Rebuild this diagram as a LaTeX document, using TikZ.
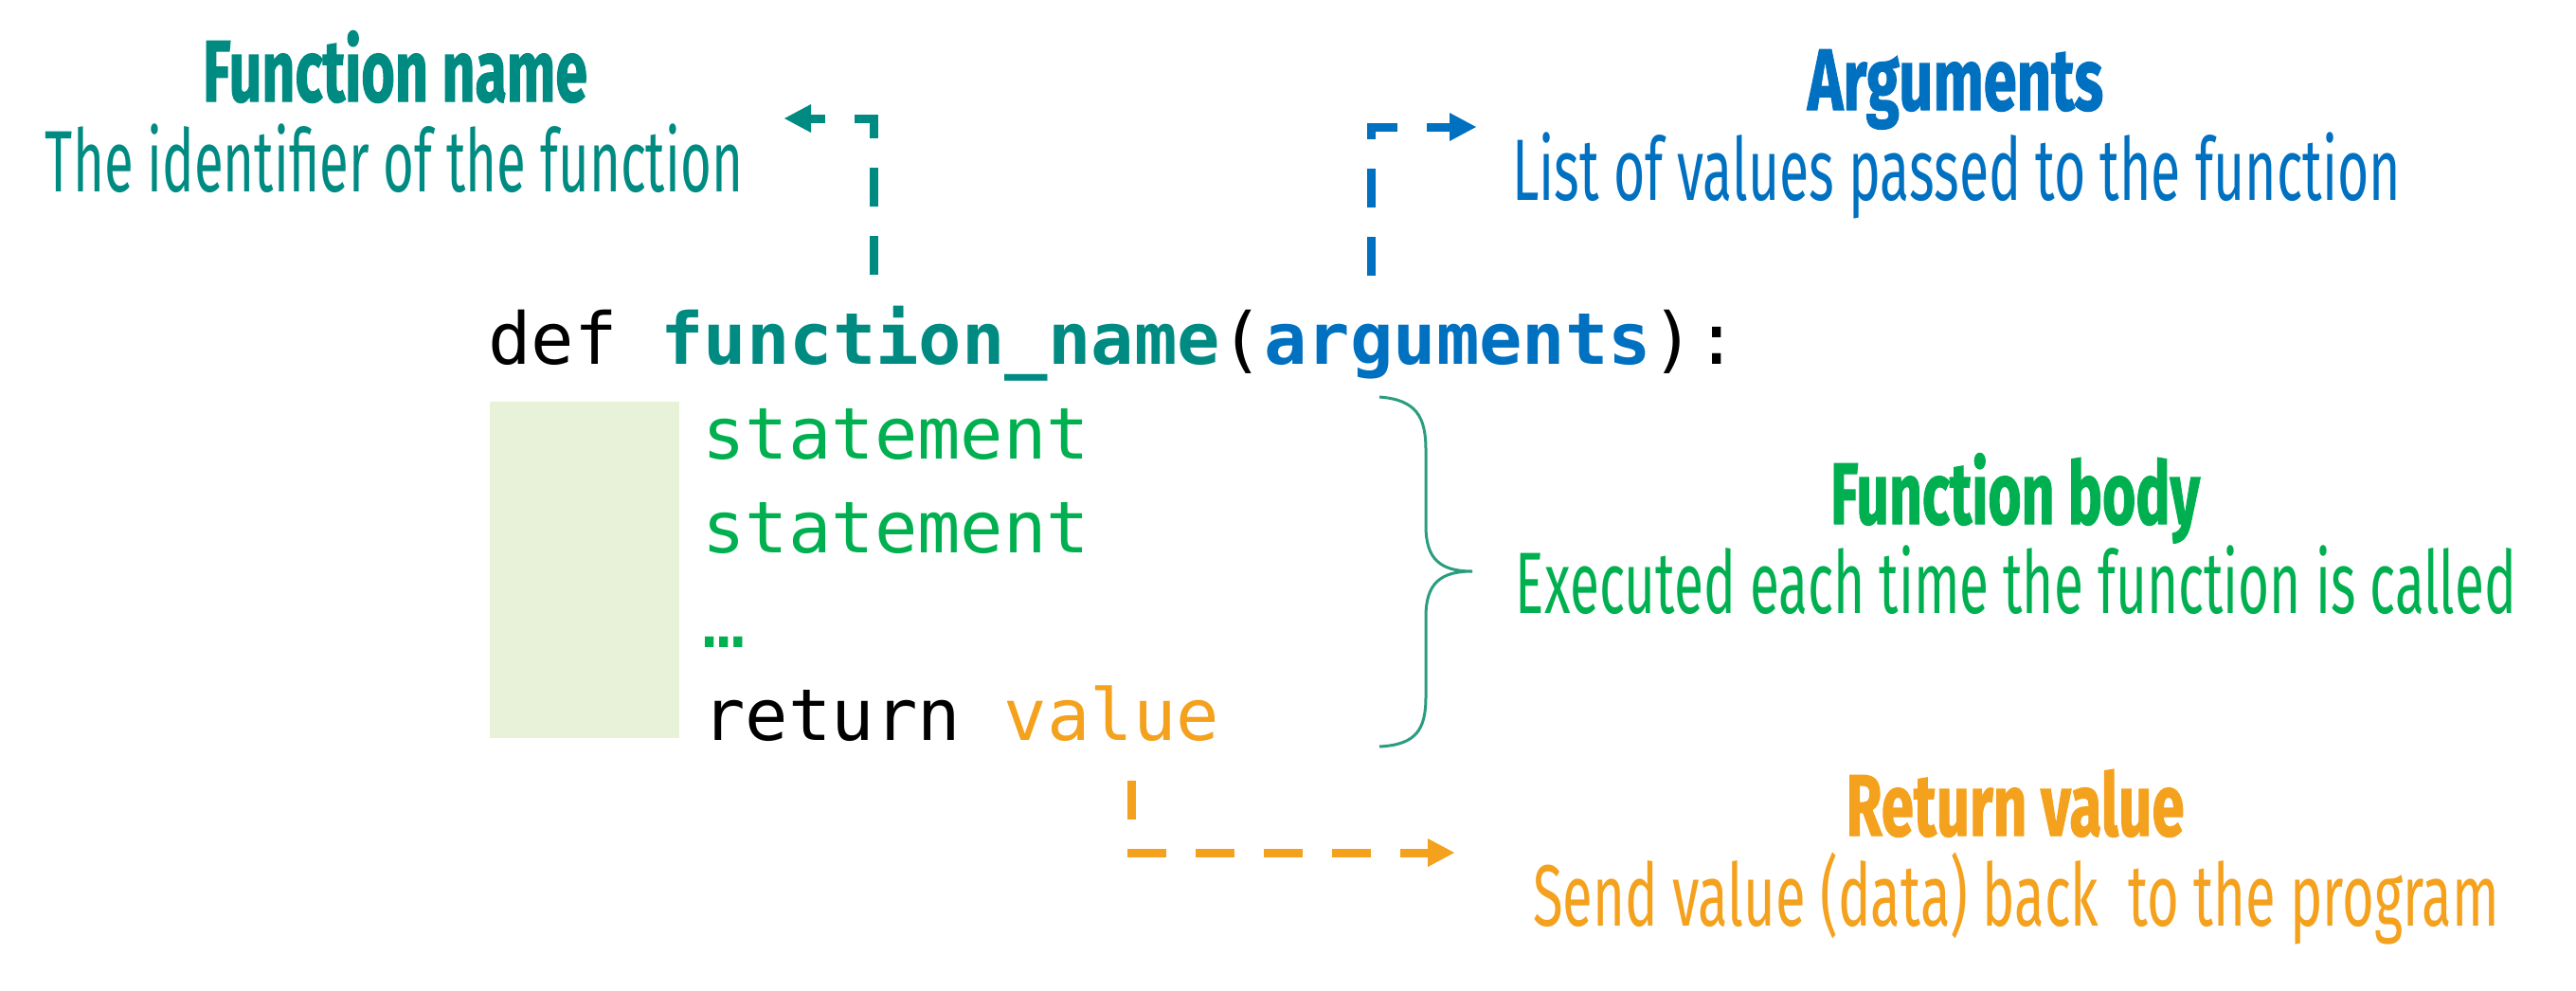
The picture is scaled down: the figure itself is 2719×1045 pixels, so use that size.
\documentclass[tikz,border=0pt]{standalone}
\usepackage{fontspec}
\usepackage{graphicx}
\usetikzlibrary{arrows.meta}
\newfontfamily\codefont{DejaVu Sans Mono}
\newfontfamily\labfont{Fira Sans}[BoldFeatures={FakeBold=1.5}]
\definecolor{tealc}{HTML}{008B82}
\definecolor{bluec}{HTML}{0070C0}
\definecolor{greenc}{HTML}{00B050}
\definecolor{orangec}{HTML}{F4A11E}
\definecolor{bracec}{HTML}{2A9D7F}
\definecolor{boxc}{HTML}{E8F2D8}
\newcommand\fitw[2]{\resizebox{#1pt}{\height}{#2}}
\tikzset{
  code/.style={anchor=base west, inner sep=0pt, font=\codefont\fontsize{75.5}{90}\selectfont},
  codeb/.style={code, font=\codefont\bfseries\fontsize{75.5}{90}\selectfont},
  lab/.style={anchor=base, inner sep=0pt, font=\labfont\fontsize{92}{110}\selectfont},
  ttl/.style={anchor=base, inner sep=0pt, font=\labfont\bfseries\fontsize{92}{110}\selectfont},
  dasharrow/.style={line width=9pt, dash pattern=on 41pt off 31pt,
    -{Triangle[length=28pt,width=30pt,line width=0pt]}},
}
\begin{document}
\begin{tikzpicture}[x=1pt,y=-1pt]
\fill[white] (0,0) rectangle (2719,1045);
\path[use as bounding box] (0,0) rectangle (2719,1045);

% indentation box
\node[fill=boxc, inner sep=0pt, minimum width=200pt, minimum height=355pt, anchor=north west] (indent) at (517,424) {};

% code
\node[code] (kwdef) at (515,384) {def};
\node[codeb, text=tealc] (fname) at (697,384) {function\_name};
\node[code] (lpar) at (1288.5,384) {(};
\node[codeb, text=bluec] (args) at (1334,384) {arguments};
\node[code] (rpar) at (1743.5,384) {):};
\node[code, text=greenc] (st1) at (741,484) {statement};
\node[code, text=greenc] (st2) at (741,583) {statement};
\node[code, text=greenc] (dots) at (741,683) {…};
\node[code] (ret) at (741,781) {return};
\node[code, text=orangec] (val) at (1059.5,781) {value};

% labels
\node[ttl, text=tealc] (fnT) at (417,107) {\fitw{406}{Function name}};
\node[lab, text=tealc] (fnS) at (416,202) {\fitw{736}{The identifier of the function}};
\node[ttl, text=bluec] (argT) at (2064,116) {\fitw{312}{Arguments}};
\node[lab, text=bluec] (argS) at (2065,211) {\fitw{938}{List of values passed to the function}};
\node[ttl, text=greenc] (bodyT) at (2127,553) {\fitw{390}{Function body}};
\node[lab, text=greenc] (bodyS) at (2128,647) {\fitw{1056}{Executed each time the function is called}};
\node[ttl, text=orangec] (retT) at (2127,882) {\fitw{357}{Return value}};
\node[lab, text=orangec] (retS) at (2128,977) {\fitw{1020}{Send value (data) back\ \ to the program}};

% connectors
\coordinate (fnA) at (922,290);
\coordinate (fnB) at (922,125);
\coordinate (fnC) at (828,125);
\draw[dasharrow, tealc] (fnA) -- (fnB) -- (fnC);

\coordinate (argA) at (1447,291);
\coordinate (argB) at (1447,134);
\coordinate (argC) at (1558,134);
\draw[dasharrow, bluec] (argA) -- (argB) -- (argC);

\coordinate (retA) at (1194,824);
\coordinate (retB) at (1194,900);
\coordinate (retC) at (1535,900);
\draw[dasharrow, orangec] (retA) -- (retB) -- (retC);

% brace
\coordinate (brTop) at (1456,419);
\coordinate (brTip) at (1554,603);
\coordinate (brBot) at (1456,788);
\draw[bracec, line width=3pt] (brTop) .. controls (1495,422) and (1505,440) .. (1505,475)
  -- (1505,555) .. controls (1505,590) and (1520,603) .. (brTip)
  .. controls (1520,603) and (1505,616) .. (1505,651)
  -- (1505,735) .. controls (1505,770) and (1495,786) .. (brBot);
\end{tikzpicture}
\end{document}
